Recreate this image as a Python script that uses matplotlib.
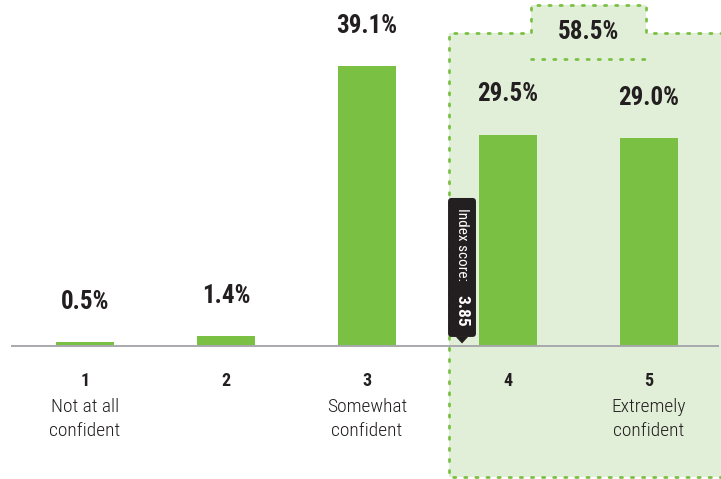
import matplotlib
matplotlib.use("Agg")
import matplotlib.pyplot as plt
from matplotlib.patches import Rectangle, Polygon, FancyBboxPatch
from matplotlib.lines import Line2D

plt.rcParams['font.family'] = ['Roboto Condensed', 'DejaVu Sans']

# Survey responses: confidence rating on a 1-5 scale
ratings = [1, 2, 3, 4, 5]
rating_labels = ["1", "2", "3", "4", "5"]
rating_desc = ["Not at all\nconfident", "", "Somewhat\nconfident", "", "Extremely\nconfident"]
shares = [0.5, 1.4, 39.1, 29.5, 29.0]
top_two_share = 58.5
index_score = 3.85

BAR = "#7ac143"
SHADE = "#e2efd8"
DOT = "#7ac143"
INK = "#231f20"

fig = plt.figure(figsize=(7.21, 4.79), dpi=100)
ax = fig.add_axes([0, 0, 1, 1])
ax.set_xlim(0.397, 5.511)
ax.set_ylim(-18.58, 48.32)
ax.axis("off")

# Highlighted top-two region (ratings 4 and 5) with a tab holding the combined share
x0, y_top, y_bot = 3.582, 43.7, -18.3
tx0, tx1, ty = 4.163, 4.979, 47.6
ax.add_patch(Rectangle((x0, y_bot), 6 - x0, y_top - y_bot, facecolor=SHADE,
                       edgecolor="none", zorder=0))
ax.add_patch(Rectangle((tx0, y_top - 4), tx1 - tx0, ty - y_top + 4, facecolor=SHADE,
                       edgecolor="none", zorder=0))
dot_style = dict(color=DOT, lw=2.0, linestyle=(0, (0.8, 3.2)), dash_capstyle="round",
                 solid_joinstyle="miter", zorder=1)
ax.plot([6.0, x0, x0, tx0, tx0, tx1, tx1, 6.0],
        [y_bot, y_bot, y_top, y_top, ty, ty, y_top, y_top], **dot_style)
ax.plot([tx0, tx1], [40.1, 40.1], **dot_style)
ax.text((tx0 + tx1) / 2, (ty + 40.1) / 2, f"{top_two_share}%", ha="center", va="center",
        fontsize=18, fontweight="bold", color=INK, zorder=3)

# Bars and value labels
ax.bar(ratings, shares, width=0.41, color=BAR, zorder=2)
for x, v in zip(ratings, shares):
    ax.annotate(f"{v}%", (x, v), xytext=(0, 29), textcoords="offset points",
                ha="center", va="center", fontsize=18, fontweight="bold", color=INK,
                zorder=3)

# Baseline
ax.add_line(Line2D([0.482, 5.489], [0, 0], color="#a7a9ac", lw=1.4, zorder=2))

# Category labels
for x, num, desc in zip(ratings, rating_labels, rating_desc):
    ax.text(x, -4.9, num, ha="center", va="center", fontsize=13, fontweight="bold",
            color=INK)
    if desc:
        ax.text(x, -7.3, desc, ha="center", va="top", fontsize=14, color=INK,
                fontweight="light", linespacing=1.38)

# Index score callout
cx = 3.674
half_w = 0.099
box_lo, box_hi = 1.26, 20.67
ax.add_patch(FancyBboxPatch((cx - half_w, box_lo), 2 * half_w, box_hi - box_lo,
                            boxstyle="round,pad=0,rounding_size=0.025",
                            mutation_aspect=19.7, facecolor=INK, edgecolor="none",
                            zorder=4))
ax.add_patch(Polygon([[cx - 0.045, box_lo + 0.05], [cx + 0.045, box_lo + 0.05],
                      [cx, 0.35]], closed=True, facecolor=INK, edgecolor="none",
                     zorder=4))
ax.text(cx, 19.3, "Index score:", rotation=270, ha="center", va="top", fontsize=11,
        color="white", zorder=5)
ax.text(cx, 2.65, f"{index_score}", rotation=270, ha="center", va="bottom", fontsize=12.5,
        fontweight="bold", color="white", zorder=5)

fig.savefig("out.png", dpi=100)
